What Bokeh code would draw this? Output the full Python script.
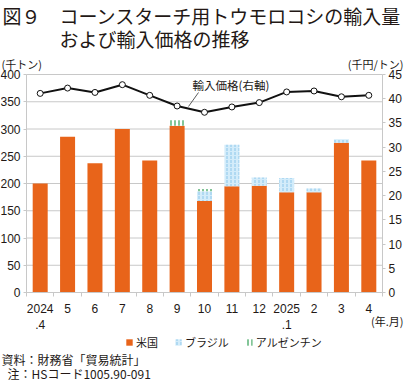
from bokeh.plotting import figure
from bokeh.models import (Range1d, LinearAxis, FixedTicker, Label, Legend, LegendItem,
                          ColumnDataSource)
from bokeh.transform import stack
from bokeh.embed import file_html
from bokeh.resources import INLINE

# ---- data ----
months = ["2024\n.4", "5", "6", "7", "8", "9", "10", "11", "12", "2025\n.1", "2", "3", "4"]
usa = [200, 286, 237, 300, 242, 306, 168, 195, 196, 184, 184, 275, 242]
brazil = [0, 0, 0, 0, 0, 0, 18, 76, 15, 26, 7, 6, 0]
argentina = [0, 0, 0, 0, 0, 10, 4, 0, 0, 0, 0, 0, 0]
price = [41.1, 42.2, 41.3, 42.9, 40.7, 38.5, 37.2, 38.3, 39.2, 41.4, 41.6, 40.4, 40.7]
left_ticks = [0, 50, 100, 150, 200, 250, 300, 350, 400]
right_ticks = [0, 5, 10, 15, 20, 25, 30, 35, 40, 45]

JP = "Noto Sans CJK JP"
NUM = "Liberation Sans"
TXT = "#231815"
GRID = "#C8C8C8"

# ---- layout (page pixels) ----
W, H = 404, 385
CL, CR, CT, CB = 8, 412, 0, 385          # canvas edges on the page
PL, PR, PT, PB = 34, 390, 74, 292        # plot area on the page
N = len(months)
CW = (PR - PL) / N
KY = (PB - PT) / 400.0
LMAX, RMAX = 400.0, 45.0

def X(px):
    return -0.5 + (px - PL) / CW

def Y(py):
    return (PB - py) / KY

def YR(py):
    return Y(py) * RMAX / LMAX

idx = list(range(N))
src = ColumnDataSource(dict(x=idx, usa=usa, brazil=brazil, argentina=argentina, price=price))

p = figure(width=W, height=H, output_backend="svg", toolbar_location=None,
           x_range=Range1d(X(CL), X(CR)), y_range=Range1d(Y(CB), Y(CT)),
           min_border=0, outline_line_color=None, background_fill_color="white")
p.extra_y_ranges = {"price": Range1d(YR(CB), YR(CT))}
p.xgrid.visible = False
p.ygrid.visible = False

# gridlines
p.segment(x0=[-0.5] * len(left_ticks), x1=[N - 0.5] * len(left_ticks),
          y0=left_ticks, y1=left_ticks, line_color=GRID, line_width=1)

# bars
BW = 15 / CW
r_us = p.vbar(x="x", bottom=stack(), top=stack("usa"), width=BW, source=src,
              fill_color="#E8641A", line_color=None)
r_br = p.vbar(x="x", bottom=stack("usa"), top=stack("usa", "brazil"), width=BW, source=src,
              fill_color="#D3ECFA", line_color=None,
              hatch_pattern=":", hatch_color="#8CC6EA", hatch_scale=4, hatch_weight=1)
r_ar = p.vbar(x="x", bottom=stack("usa", "brazil"), top=stack("usa", "brazil", "argentina"),
              width=BW, source=src, fill_color="white", line_color=None,
              hatch_pattern="|", hatch_color="#2E9E52", hatch_scale=4, hatch_weight=1.2)

# price line
p.line("x", "price", source=src, y_range_name="price", line_color="#111111", line_width=2)
p.scatter("x", "price", source=src, y_range_name="price", size=6, fill_color="white",
          line_color="#111111", line_width=1)

# axes
ya = p.yaxis[0]
ya.ticker = FixedTicker(ticks=left_ticks)
ya.fixed_location = -0.5
ya.bounds = (0, 400)
ra = LinearAxis(y_range_name="price", ticker=FixedTicker(ticks=right_ticks),
                fixed_location=N - 0.5, bounds=(0, 45))
p.add_layout(ra, "right")
for ax in (ya, ra):
    ax.axis_line_color = GRID
    ax.major_tick_line_color = GRID
    ax.major_tick_out = 3
    ax.major_tick_in = 0
    ax.minor_tick_line_color = None
    ax.major_label_text_font = NUM
    ax.major_label_text_font_size = "12px"
    ax.major_label_text_color = TXT
    ax.major_label_standoff = 3

xa = p.xaxis[0]
xa.fixed_location = 0
xa.bounds = (-0.5, N - 0.5)
xa.ticker = FixedTicker(ticks=idx, minor_ticks=[i - 0.5 for i in range(N + 1)])
xa.major_label_overrides = {i: m for i, m in zip(idx, months)}
xa.axis_line_color = GRID
xa.major_tick_line_color = None
xa.major_tick_out = 0
xa.minor_tick_line_color = GRID
xa.minor_tick_out = 4
xa.minor_tick_in = 0
xa.major_label_text_font = NUM
xa.major_label_text_font_size = "12px"
xa.major_label_text_color = TXT
xa.major_label_standoff = 5

# legend
legend = Legend(items=[LegendItem(label="米国", renderers=[r_us]),
                       LegendItem(label="ブラジル", renderers=[r_br]),
                       LegendItem(label="アルゼンチン", renderers=[r_ar])],
                location=(133 - CL, CB - 343 - 7), orientation="horizontal",
                border_line_color=None, background_fill_alpha=0, padding=0, margin=0,
                spacing=16, label_standoff=3, glyph_width=8, glyph_height=8,
                label_height=12, label_text_font=JP, label_text_font_size="11px",
                label_text_color=TXT)
p.add_layout(legend, "center")

def lab(text, px, py, size, align="left", rng="default"):
    yy = YR(py) if rng == "price" else Y(py)
    p.add_layout(Label(x=X(px), y=yy, text=text, text_font=JP,
                       text_font_size=size, text_color=TXT, text_align=align,
                       text_baseline="middle", y_range_name=rng))

# titles
lab("図９", 10, 15, "19px")
lab("コーンスターチ用トウモロコシの輸入量", 67, 15, "19px")
lab("および輸入価格の推移", 67, 38, "19px")
# units
lab("(千トン)", 9, 63, "11px")
lab("(千円/トン)", 411, 63, "11px", align="right")
lab("(年.月)", 411, 320, "11px", align="right")
# price annotation
lab("輸入価格(右軸)", 200, 84, "11.5px", rng="price")
p.segment(x0=[X(196)], y0=[YR(106)], x1=[X(206)], y1=[YR(92)], y_range_name="price",
          line_color="#333333", line_width=0.8)
# notes
lab("資料：財務省「貿易統計」", 9, 359, "12px")
lab("注：HSコード1005.90-091", 15, 373, "12px")

open("out.html", "w").write(file_html(p, INLINE))
